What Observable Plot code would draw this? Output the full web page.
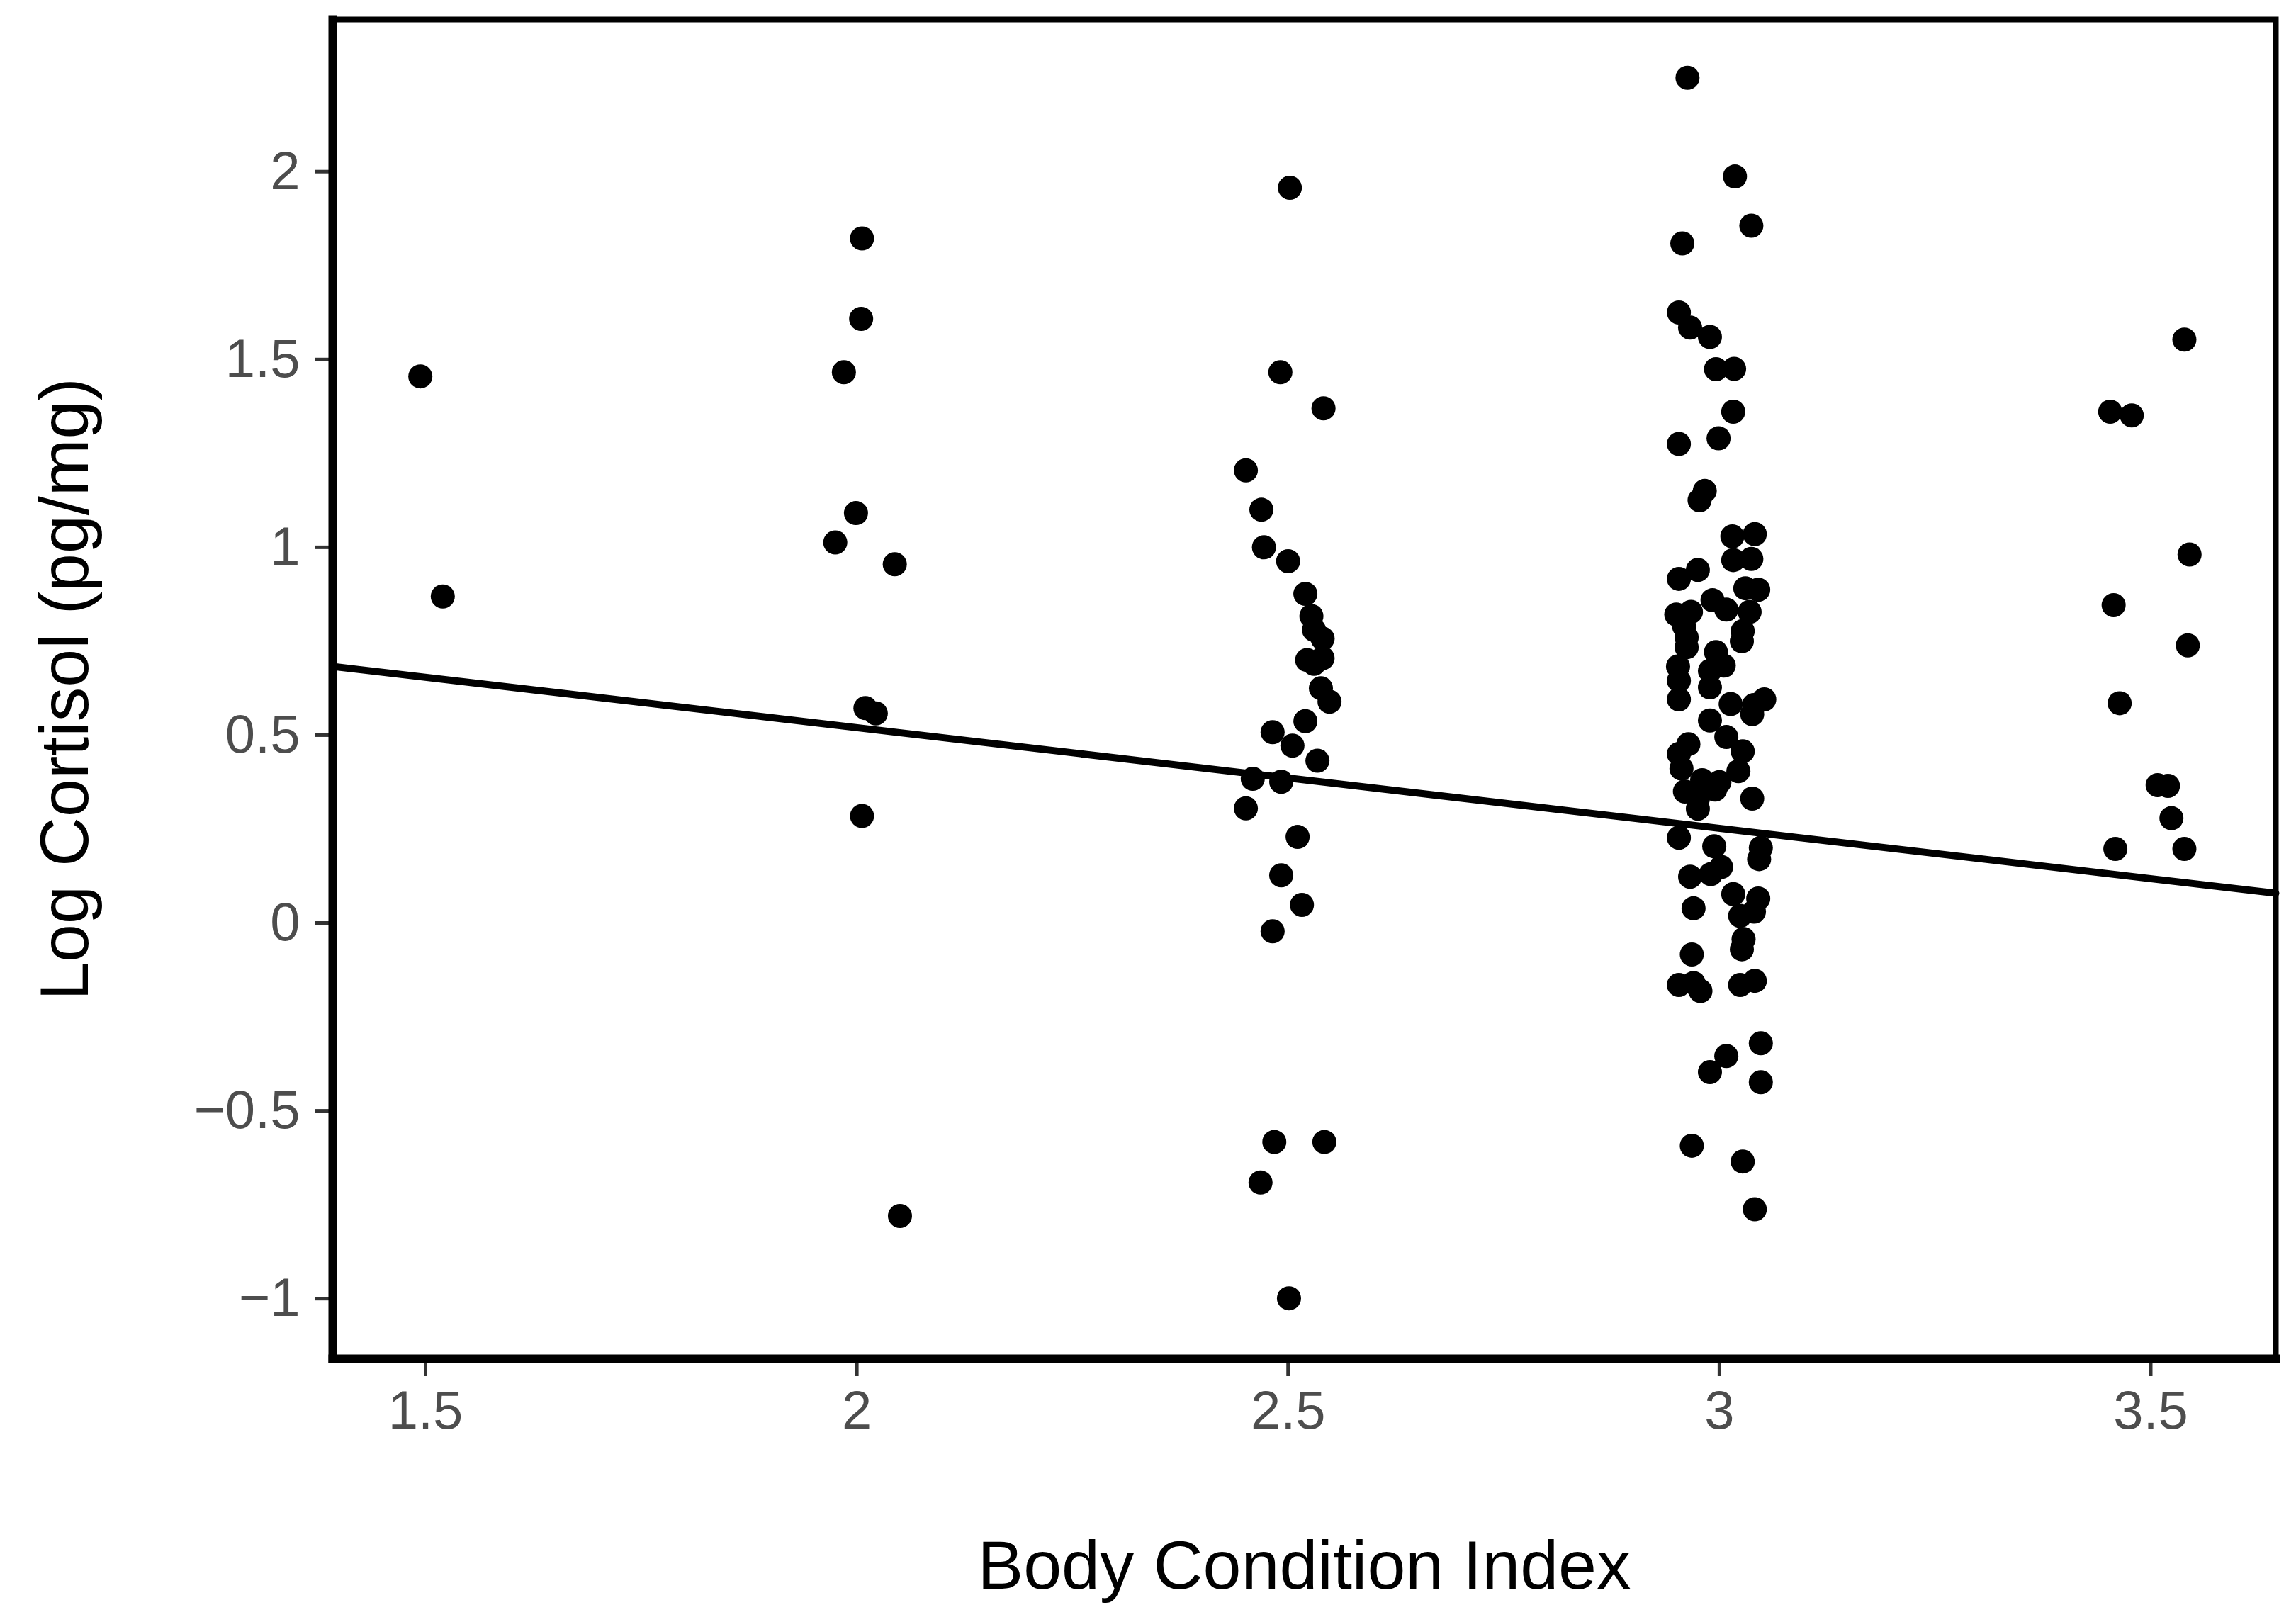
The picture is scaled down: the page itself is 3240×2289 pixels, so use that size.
<!DOCTYPE html>
<html>
<head>
<meta charset="utf-8">
<script src="https://cdn.jsdelivr.net/npm/d3@7"></script>
<script src="https://cdn.jsdelivr.net/npm/@observablehq/plot@0.6"></script>
<style>
  html, body { margin: 0; padding: 0; background: #ffffff; }
  #chart { width: 3240px; height: 2289px; }
</style>
</head>
<body>
<div id="chart"></div>
<script>
// ---- data ----
const bci = [
  // ~1.5
  1.494, 1.520,
  // ~2
  2.006, 2.005, 1.985, 1.999, 1.975, 2.044, 2.010, 2.022, 2.006, 2.050,
  // ~2.5
  2.502, 2.491, 2.541, 2.451, 2.469, 2.472, 2.500, 2.520, 2.527, 2.530,
  2.540, 2.522, 2.540, 2.530, 2.538, 2.548, 2.520, 2.482, 2.505, 2.534,
  2.459, 2.492, 2.451, 2.511, 2.492, 2.516, 2.482, 2.484, 2.542, 2.468, 2.501,
  // ~3
  2.963, 3.018, 3.037, 2.957, 2.953, 2.966, 2.989, 2.996, 3.017, 3.016,
  2.953, 2.999, 2.983, 2.977, 3.015, 3.041, 3.016, 3.037, 2.975, 2.953,
  2.992, 3.008, 3.030, 3.045, 2.950, 2.967, 3.035, 3.027, 3.026, 2.959,
  2.962, 2.962, 2.996, 3.005, 2.952, 2.989, 2.953, 2.989, 2.953, 3.013,
  3.040, 3.052, 3.038, 2.989, 3.008, 3.027, 2.964, 2.953, 2.956, 3.022,
  2.960, 2.995, 2.975, 3.038, 2.975, 2.953, 2.994, 3.048, 3.046, 3.002,
  2.966, 2.990, 2.970, 3.016, 3.045, 3.024, 3.040, 3.028, 3.026, 2.968,
  2.953, 2.978, 2.970, 3.024, 3.041, 3.048, 3.008, 2.989, 3.048, 2.968,
  3.027, 3.041, 2.980, 3.000,
  // ~3.5
  3.539, 3.453, 3.478, 3.545, 3.457, 3.543, 3.464, 3.508, 3.520, 3.524, 3.459, 3.539
];
const logCortisol = [
  // ~1.5
  1.455, 0.869,
  // ~2
  1.822, 1.608, 1.466, 1.091, 1.013, 0.955, 0.572, 0.558, 0.285, -0.780,
  // ~2.5
  1.957, 1.466, 1.370, 1.205, 1.100, 1.000, 0.963, 0.876, 0.817, 0.780,
  0.757, 0.700, 0.705, 0.690, 0.625, 0.589, 0.537, 0.508, 0.472, 0.432,
  0.384, 0.376, 0.305, 0.229, 0.127, 0.048, -0.022, -0.583, -0.583, -0.691, -0.999,
  // ~3
  2.250, 1.987, 1.856, 1.809, 1.625, 1.585, 1.560, 1.474, 1.475, 1.361,
  1.275, 1.290, 1.150, 1.125, 1.029, 1.035, 0.966, 0.969, 0.940, 0.916,
  0.859, 0.834, 0.891, 0.887, 0.821, 0.828, 0.828, 0.777, 0.750, 0.790,
  0.760, 0.734, 0.721, 0.685, 0.683, 0.671, 0.645, 0.627, 0.595, 0.583,
  0.580, 0.595, 0.556, 0.539, 0.495, 0.457, 0.476, 0.450, 0.411, 0.404,
  0.350, 0.355, 0.330, 0.331, 0.304, 0.227, 0.204, 0.200, 0.170, 0.149,
  0.123, 0.130, 0.039, 0.077, 0.065, 0.019, 0.030, -0.043, -0.070, -0.084,
  -0.165, -0.181, -0.160, -0.165, -0.154, -0.320, -0.354, -0.397, -0.424, -0.593,
  -0.635, -0.762, 0.380, 0.375,
  // ~3.5
  1.553, 1.361, 1.351, 0.981, 0.846, 0.739, 0.585, 0.367, 0.365, 0.279, 0.197, 0.197
];
const xTicks = [1.5, 2, 2.5, 3, 3.5];
const yTicks = [-1, -0.5, 0, 0.5, 1, 1.5, 2];
const xDomain = [1.3924, 3.645];
const yDomain = [-1.16, 2.405];
const fitIntercept = 1.056;
const fitSlope = -0.268;
const xTitle = "Body Condition Index";
const yTitle = "Log Cortisol (pg/mg)";

// ---- build tables ----
const points = bci.map((x, i) => ({x, y: logCortisol[i]}));
const fitLine = xDomain.map(x => ({x, y: fitIntercept + fitSlope * x}));
const fmt = d => (d < 0 ? "\u2212" : "") + Math.abs(d);

const chart = Plot.plot({
  width: 3240,
  height: 2289,
  marginLeft: 469,
  marginRight: 29,
  marginTop: 27,
  marginBottom: 372,
  style: {fontFamily: "'Liberation Sans', Arial, sans-serif", background: "#ffffff"},
  x: {domain: xDomain, ticks: xTicks},
  y: {domain: yDomain, ticks: yTicks},
  marks: [
    Plot.frame({stroke: "black", strokeWidth: 8}),
    Plot.axisX({ticks: xTicks, tickFormat: fmt, tickSize: 25, tickPadding: 20,
      fontSize: 76, stroke: "#333333", strokeWidth: 5, fill: "#4d4d4d", label: null}),
    Plot.axisY({ticks: yTicks, tickFormat: fmt, tickSize: 24, tickPadding: 22,
      fontSize: 76, stroke: "#333333", strokeWidth: 5, fill: "#4d4d4d", label: null}),
    Plot.frame({anchor: "left", stroke: "black", strokeWidth: 12}),
    Plot.frame({anchor: "bottom", stroke: "black", strokeWidth: 12}),
    Plot.line(fitLine, {x: "x", y: "y", stroke: "black", strokeWidth: 10}),
    Plot.dot(points, {x: "x", y: "y", r: 17, fill: "black", stroke: "none"}),
    Plot.text([xTitle], {frameAnchor: "bottom", dy: 324, lineAnchor: "bottom",
      textAnchor: "middle", fontSize: 97, fill: "black", text: d => d}),
    Plot.text([yTitle], {frameAnchor: "left", dx: -346, rotate: -90, lineAnchor: "bottom",
      textAnchor: "middle", fontSize: 97, fill: "black", text: d => d})
  ]
});
document.getElementById("chart").appendChild(chart);
</script>
</body>
</html>
